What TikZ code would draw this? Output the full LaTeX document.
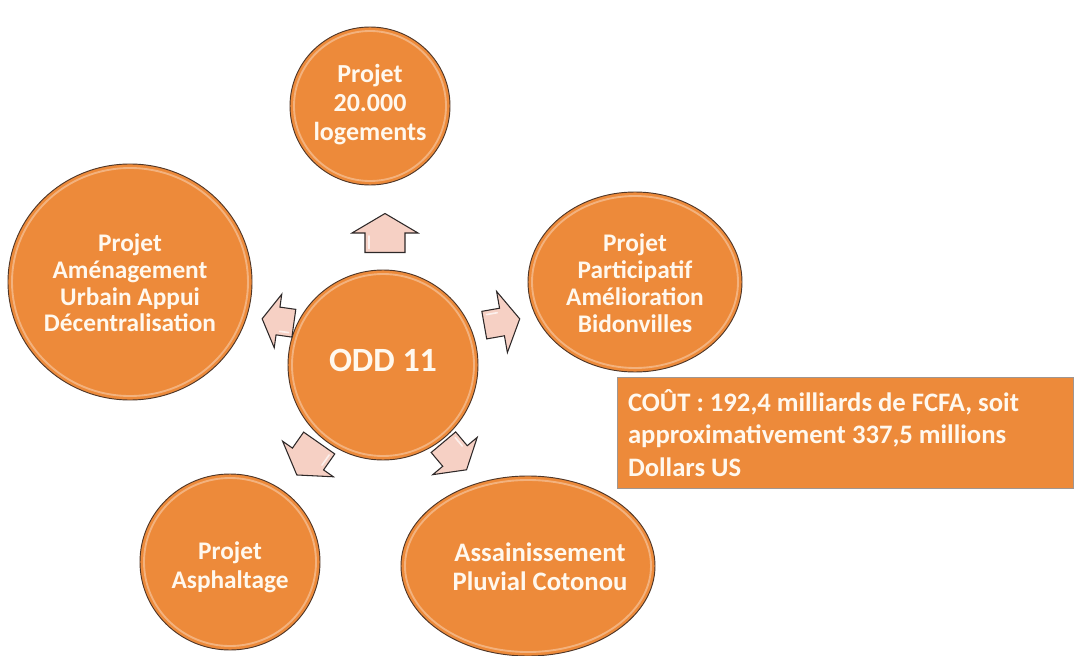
\documentclass[tikz,border=0pt]{standalone}
\usepackage{fontspec}
\setmainfont{Carlito}
\definecolor{orangefill}{RGB}{237,138,58}
\definecolor{orbline}{RGB}{80,55,40}
\definecolor{cream}{RGB}{255,248,238}
\definecolor{arrowfill}{RGB}{246,208,196}
\definecolor{arrowline}{RGB}{45,40,40}
\definecolor{boxline}{RGB}{160,150,145}
\begin{document}
\begin{tikzpicture}[x=0.75pt,y=-0.75pt,
  orb/.style={fill=orangefill, draw=orbline, line width=0.7pt},
  orbrim/.style={draw=white, draw opacity=0.35, line width=1.4pt},
  orbtext/.style={text=cream, align=flush center, inner sep=0pt,
    font=\bfseries\fontsize{19pt}{21.75pt}\selectfont},
  arrowbody/.style={fill=arrowfill, draw=arrowline, line width=0.8pt, line join=miter},
  arrowgloss/.style={draw=white, draw opacity=0.7, line width=1.2pt, line cap=round},
  pics/blockarrow/.style n args={3}{code={
    \draw[arrowbody] ({-#1/2},{-#3}) -- (0,{-#3}) -- (0,{-#2}) -- ({#1/2},0)
      -- (0,{#2}) -- (0,{#3}) -- ({-#1/2},{#3}) -- cycle;
    \draw[arrowgloss] ({-#1/2+4},{-#3+4}) -- ({-3},{-#3+4});
  }}
]
\useasboundingbox (0,0) rectangle (1074,656);

% satellite discs
\path[orb] (370,106) ellipse [x radius=80, y radius=79];
\path[orbrim] (370,106) ellipse [x radius=76, y radius=75];
\path[orb] (130,282) ellipse [x radius=122, y radius=118];
\path[orbrim] (130,282) ellipse [x radius=118, y radius=114];
\path[orb] (635,282) ellipse [x radius=107, y radius=90];
\path[orbrim] (635,282) ellipse [x radius=103, y radius=86];
\path[orb] (230,562) ellipse [x radius=90, y radius=88];
\path[orbrim] (230,562) ellipse [x radius=86, y radius=84];
\path[orb] (528,566) ellipse [x radius=127, y radius=90];
\path[orbrim] (528,566) ellipse [x radius=123, y radius=86];

% central disc
\path[orb] (383,365) circle [radius=95];
\path[orbrim] (383,365) circle [radius=91];

% labels
\node[orbtext, font=\bfseries\fontsize{19.5pt}{21.75pt}\selectfont] (logements) at (370,105) {Projet\\20.000\\logements};
\node[orbtext, font=\bfseries\fontsize{19pt}{19.9pt}\selectfont] (urbain) at (130,283) {Projet\\Aménagement\\Urbain Appui\\Décentralisation};
\node[orbtext, font=\bfseries\fontsize{19pt}{20.2pt}\selectfont] (bidonvilles) at (635,283) {Projet\\Participatif\\Amélioration\\Bidonvilles};
\node[orbtext] (asphaltage) at (230,567) {Projet\\Asphaltage};
\node[orbtext, font=\bfseries\fontsize{20pt}{21.75pt}\selectfont] (pluvial) at (540,567) {Assainissement\\Pluvial Cotonou};
\node[orbtext, font=\bfseries\fontsize{25.5pt}{28pt}\selectfont] (odd) at (383,360) {ODD 11};

% outward arrows
\pic[rotate=90] at (385,233) {blockarrow={39}{33}{20}};
\pic[rotate=172] at (278,321) {blockarrow={32}{27}{14}};
\pic[rotate=10] at (502,322) {blockarrow={36}{31}{14}};
\pic[rotate=235] at (308,459) {blockarrow={39}{31}{19}};
\pic[rotate=310] at (455,456) {blockarrow={36}{29}{16}};

% cost box
\node[anchor=north west, fill=orangefill, draw=boxline, line width=0.5pt,
  minimum width=342pt, minimum height=83pt, inner xsep=8pt, inner ysep=0pt,
  text width=326pt, align=flush left, text=cream,
  font=\bfseries\fontsize{20pt}{24.4pt}\selectfont] (cost) at (617,377)
  {COÛT : 192,4 milliards de FCFA, soit\\approximativement 337,5 millions\\Dollars US};
\end{tikzpicture}
\end{document}
